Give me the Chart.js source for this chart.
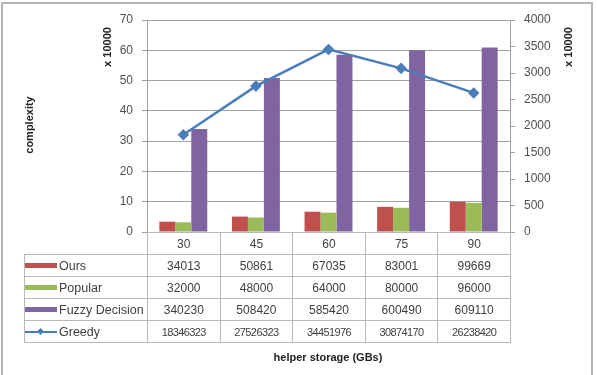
<!DOCTYPE html>
<html lang="en">
<head>
    <meta charset="UTF-8">
    <title>complexity vs helper storage</title>
    <style>
        body {
            margin: 0;
            padding: 0;
            width: 597px;
            height: 375px;
            overflow: hidden;
            background: #fff;
            font-family: "Liberation Sans", Arial, sans-serif;
            position: relative;
        }

        .frame {
            position: absolute;
            left: 1px;
            top: 2px;
            width: 588px;
            height: 380px;
            border: 2px solid #b4b4b4;
        }

        #chartBox {
            position: absolute;
            left: 0;
            top: 0;
            width: 597px;
            height: 375px;
        }

        .vtitle {
            position: absolute;
            font-size: 11px;
            font-weight: bold;
            color: #222;
            white-space: nowrap;
            transform: translate(-50%, -50%) rotate(-90deg);
        }

        .xtitle {
            position: absolute;
            font-size: 11px;
            font-weight: bold;
            color: #222;
            white-space: nowrap;
            transform: translate(-50%, -50%);
        }

        #dataTable {
            position: absolute;
            border-collapse: collapse;
            table-layout: fixed;
            font-size: 12px;
            color: #404040;
        }

        #dataTable td {
            border: 1px solid #b8b8b8;
            text-align: center;
            padding: 0;
            height: 21px;
            white-space: nowrap;
            overflow: hidden;
        }

        #dataTable td.blank {
            border: none;
        }

        #dataTable td.name {
            text-align: left;
            font-size: 12.5px;
        }

        .key {
            display: inline-block;
            width: 32px;
            height: 5px;
            margin: 0 2px 1px 0;
            vertical-align: middle;
        }

        .key-line {
            display: inline-block;
            position: relative;
            width: 32px;
            height: 8px;
            margin-right: 2px;
            vertical-align: middle;
        }

        .key-line::before {
            content: "";
            position: absolute;
            left: 0;
            right: 0;
            top: 3px;
            height: 2px;
            background: #4a7ebb;
        }

        .key-line::after {
            content: "";
            position: absolute;
            left: 13px;
            top: 1px;
            width: 5px;
            height: 5px;
            background: #4a7ebb;
            transform: rotate(45deg);
        }

        #dataTable td.narrow {
            font-size: 11px;
            letter-spacing: -0.6px;
        }
    </style>
</head>
<body>
<div id="chartBox"><canvas id="complexityChart" width="597" height="375"></canvas></div>
<div class="frame"></div>
<div class="vtitle" style="left:29px; top:125px;">complexity</div>
<div class="vtitle" style="left:107px; top:47px;">x 10000</div>
<div class="vtitle" style="left:568px; top:47px;">x 10000</div>
<div class="xtitle" style="left:328px; top:357px;">helper storage (GBs)</div>
<table id="dataTable"></table>

<script src="https://cdn.jsdelivr.net/npm/chart.js"></script>
<script>
    // 데이터
    const categories = ['30', '45', '60', '75', '90'];
    const ours = [34013, 50861, 67035, 83001, 99669];
    const popular = [32000, 48000, 64000, 80000, 96000];
    const fuzzy = [340230, 508420, 585420, 600490, 609110];
    const greedy = [18346323, 27526323, 34451976, 30874170, 26238420];

    const leftMax = 700000;
    const leftStep = 100000;
    const rightMax = 40000000;
    const rightStep = 5000000;
    const unit = 10000;

    const colors = {
        ours: '#c0504d',
        popular: '#9bbb59',
        fuzzy: '#8064a2',
        greedy: '#4a7ebb'
    };

    const gridColor = '#a0a0a0';
    const tickColor = '#505050';

    const ctx = document.getElementById('complexityChart').getContext('2d');
    const chart = new Chart(ctx, {
        type: 'bar',
        data: {
            labels: categories,
            datasets: [
                {
                    type: 'line',
                    label: 'Greedy',
                    data: greedy,
                    yAxisID: 'yR',
                    borderColor: colors.greedy,
                    backgroundColor: colors.greedy,
                    borderWidth: 2.5,
                    pointStyle: 'rectRot',
                    pointRadius: 4,
                    tension: 0,
                    order: 0
                },
                {
                    label: 'Ours',
                    data: ours,
                    yAxisID: 'yL',
                    backgroundColor: colors.ours,
                    order: 1
                },
                {
                    label: 'Popular',
                    data: popular,
                    yAxisID: 'yL',
                    backgroundColor: colors.popular,
                    order: 1
                },
                {
                    label: 'Fuzzy Decision',
                    data: fuzzy,
                    yAxisID: 'yL',
                    backgroundColor: colors.fuzzy,
                    order: 1
                }
            ]
        },
        options: {
            responsive: false,
            animation: false,
            datasets: {
                bar: {
                    categoryPercentage: 0.66,
                    barPercentage: 1.0
                }
            },
            layout: {
                padding: { top: 20, bottom: 143, left: 0, right: 0 }
            },
            plugins: {
                legend: { display: false },
                tooltip: { enabled: false }
            },
            scales: {
                x: {
                    display: false
                },
                yL: {
                    position: 'left',
                    min: 0,
                    max: leftMax,
                    afterFit: (scale) => { scale.width = 147; },
                    ticks: {
                        stepSize: leftStep,
                        color: tickColor,
                        padding: 9,
                        font: { family: 'Liberation Sans', size: 12 },
                        callback: (v) => v / unit
                    },
                    grid: {
                        color: gridColor,
                        tickLength: 5
                    },
                    border: { color: gridColor }
                },
                yR: {
                    position: 'right',
                    min: 0,
                    max: rightMax,
                    afterFit: (scale) => { scale.width = 87; },
                    ticks: {
                        stepSize: rightStep,
                        color: tickColor,
                        padding: 9,
                        font: { family: 'Liberation Sans', size: 12 },
                        callback: (v) => v / unit
                    },
                    grid: {
                        drawOnChartArea: false,
                        color: gridColor,
                        tickLength: 5
                    },
                    border: { color: gridColor }
                }
            }
        }
    });

    // 데이터 테이블 (차트 영역에 맞춰 배치)
    const area = chart.chartArea;
    const tableLeft = 24;
    const colW = (area.right - area.left) / categories.length;
    const table = document.getElementById('dataTable');
    table.style.left = tableLeft + 'px';
    table.style.top = area.bottom + 'px';
    table.style.width = (area.right - tableLeft) + 'px';

    let html = '<colgroup><col style="width:' + (area.left - tableLeft) + 'px">';
    categories.forEach(() => { html += '<col style="width:' + colW + 'px">'; });
    html += '</colgroup>';

    html += '<tr><td class="blank"></td>';
    categories.forEach(c => { html += '<td>' + c + '</td>'; });
    html += '</tr>';

    const rows = [
        { name: 'Ours', key: '<span class="key" style="background:' + colors.ours + '"></span>', values: ours },
        { name: 'Popular', key: '<span class="key" style="background:' + colors.popular + '"></span>', values: popular },
        { name: 'Fuzzy Decision', key: '<span class="key" style="background:' + colors.fuzzy + '"></span>', values: fuzzy },
        { name: 'Greedy', key: '<span class="key-line"></span>', values: greedy, narrow: true }
    ];
    rows.forEach(r => {
        html += '<tr><td class="name">' + r.key + r.name + '</td>';
        r.values.forEach(v => {
            html += '<td' + (r.narrow ? ' class="narrow"' : '') + '>' + v + '</td>';
        });
        html += '</tr>';
    });
    table.innerHTML = html;
</script>
</body>
</html>
